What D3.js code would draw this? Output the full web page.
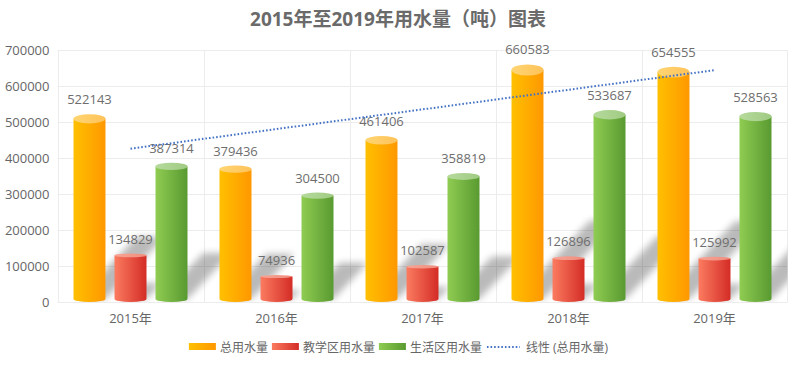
<!DOCTYPE html>
<html><head><meta charset="utf-8">
<script src="https://cdn.jsdelivr.net/npm/d3@7"></script>
<style>body{margin:0;background:#fff}svg{display:block;font-family:"Open Sans","Noto Sans CJK SC",sans-serif}</style>
</head><body><svg id="c" width="797" height="365"></svg>
<script>
const title = "2015年至2019年用水量（吨）图表";
const categories = ["2015年","2016年","2017年","2018年","2019年"];
const seriesNames = ["总用水量","教学区用水量","生活区用水量"];
const totalUse = [522143,379436,461406,660583,654555];
const teachingUse = [134829,74936,102587,126896,125992];
const livingUse = [387314,304500,358819,533687,528563];
const yTicks = [0,100000,200000,300000,400000,500000,600000,700000];
const trendName = "线性 (总用水量)";

const seriesValues = [totalUse, teachingUse, livingUse];
const colors = [
  {body:["#FFC000","#FF9800"], top:["#FFD572","#FFC25A"], sw:["#FFC000","#FF9800"]},
  {body:["#FB7C60","#D42C26"], top:["#F7A596","#F08C7C"], sw:["#FB7C60","#D42C26"]},
  {body:["#8FCC52","#599A31"], top:["#B6DA9C","#A0CB83"], sw:["#8FCC52","#599A31"]}
];

const svg = d3.select("#c");
const L = 57.5, R = 787.5, T = 50.3, B = 302;
const x = d3.scaleBand().domain(categories).range([L,R]);
const xs = d3.scaleBand().domain(d3.range(3)).range([16,130]).paddingInner(0.22);
const y = d3.scaleLinear().domain([0,700000]).range([B,T]);

const defs = svg.append("defs");
colors.forEach((c,i)=>{
  ["body","top","sw"].forEach(k=>{
    const g = defs.append("linearGradient").attr("id",`g${i}${k}`).attr("x1","0").attr("x2","1").attr("y1","0").attr("y2","0");
    g.append("stop").attr("offset","0%").attr("stop-color",c[k][0]);
    g.append("stop").attr("offset","100%").attr("stop-color",c[k][1]);
  });
});
const f = defs.append("filter").attr("id","blur").attr("x","-50%").attr("y","-50%").attr("width","200%").attr("height","200%");
f.append("feGaussianBlur").attr("stdDeviation",3.5);
defs.append("clipPath").attr("id","plotclip").append("rect").attr("x",L).attr("y",T).attr("width",R-L).attr("height",B-T);

// title
svg.append("text").attr("x",398).attr("y",26).attr("text-anchor","middle")
  .attr("font-size",19).attr("font-weight","bold").attr("fill","#6a6a6a").text(title);

// grid
const grid = svg.append("g").attr("stroke","#ececec").attr("stroke-width",1);
yTicks.forEach(t=>grid.append("line").attr("x1",L).attr("x2",R).attr("y1",Math.round(y(t))+0.5).attr("y2",Math.round(y(t))+0.5));
categories.forEach(c=>grid.append("line").attr("x1",Math.round(x(c))+0.5).attr("x2",Math.round(x(c))+0.5).attr("y1",T).attr("y2",B));
grid.append("line").attr("x1",R).attr("x2",R).attr("y1",T).attr("y2",B);

// y axis labels
const yAxis = d3.axisLeft(y).tickValues(yTicks).tickFormat(d3.format("d")).tickSize(0).tickPadding(8);
const ya = svg.append("g").attr("transform",`translate(${L},0)`).call(yAxis);
ya.select(".domain").remove();
ya.selectAll("text").attr("font-size",13).attr("fill","#666").attr("font-family","Open Sans, Noto Sans CJK SC");

// x axis labels
const xAxis = d3.axisBottom(x).tickSize(0).tickPadding(12);
const xa = svg.append("g").attr("transform",`translate(0,${B})`).call(xAxis);
xa.select(".domain").remove();
xa.selectAll("text").attr("font-size",13).attr("fill","#666").attr("font-family","Open Sans, Noto Sans CJK SC");

// shadows
const shadowOuter = svg.append("g").attr("clip-path","url(#plotclip)");
const shadowG = shadowOuter.append("g").attr("filter","url(#blur)").attr("opacity",0.27);
const bars = [];
categories.forEach((c,ci)=>{
  seriesValues.forEach((vals,si)=>{
    const x0 = x(c)+xs(si), w = xs.bandwidth(), v = vals[ci];
    bars.push({x0,w,v,si,ci});
  });
});
bars.forEach(b=>{
  const h = B - y(b.v);
  const d = h*0.33;
  const base = B-3;
  shadowG.append("path").attr("fill","#000")
    .attr("d",`M${b.x0+4},${base} L${b.x0+b.w},${base} L${b.x0+b.w+d*0.95},${base-d} L${b.x0+d*0.95+4},${base-d} Z`);
});

// cylinders
const barG = svg.append("g");
bars.forEach(b=>{
  const top = y(b.v);
  const h = B - top;
  const ry = (2 + 0.038*h)/2;
  const ryb = 3;
  const cx = b.x0 + b.w/2, rx = b.w/2;
  const yc = top + ry, yb = B - ryb;
  barG.append("path").attr("fill",`url(#g${b.si}body)`)
    .attr("d",`M${b.x0},${yc} L${b.x0},${yb} A${rx},${ryb} 0 0 0 ${b.x0+b.w},${yb} L${b.x0+b.w},${yc} Z`);
  barG.append("ellipse").attr("cx",cx).attr("cy",yc).attr("rx",rx).attr("ry",ry).attr("fill",`url(#g${b.si}top)`);
  svg.append("text").attr("x",cx).attr("y",top-10).attr("text-anchor","middle")
    .attr("font-size",13).attr("fill","#6e6e6e").text(b.v);
});

// trend line (least squares on total use)
const n = totalUse.length;
const xsIdx = d3.range(1,n+1);
const mx = d3.mean(xsIdx), my = d3.mean(totalUse);
const slope = d3.sum(xsIdx.map((xi,i)=>(xi-mx)*(totalUse[i]-my))) / d3.sum(xsIdx.map(xi=>(xi-mx)**2));
const icpt = my - slope*mx;
const trend = categories.map((c,i)=>({c, v: icpt + slope*(i+1)}));
const line = d3.line().x(d=>x(d.c)+x.bandwidth()/2).y(d=>y(d.v));
svg.append("path").datum(trend).attr("d",line).attr("fill","none")
  .attr("stroke","#4472C4").attr("stroke-width",2).attr("stroke-dasharray","1.6,2");

// legend
const lg = svg.append("g");
let cx = 0;
const ly = 347;
const items = [];
seriesNames.forEach((s,i)=>items.push({type:"bar",i,name:s}));
items.push({type:"line",name:trendName});
items.forEach(it=>{
  const g = lg.append("g").attr("transform",`translate(${cx},0)`);
  if(it.type==="bar"){
    g.append("rect").attr("x",0).attr("y",ly-4).attr("width",27).attr("height",7).attr("fill",`url(#g${it.i}sw)`);
  } else {
    g.append("line").attr("x1",1).attr("x2",34).attr("y1",ly).attr("y2",ly)
      .attr("stroke","#4472C4").attr("stroke-width",2).attr("stroke-dasharray","1.6,2");
  }
  const tx = it.type==="bar"?31:40;
  const t = g.append("text").attr("x",tx).attr("y",ly+4.5).attr("font-size",12).attr("fill","#666").text(it.name);
  cx += tx + t.node().getComputedTextLength() + 4;
});
const lw = cx - 4;
lg.attr("transform",`translate(${398.5 - lw/2},0)`);
</script></body></html>
